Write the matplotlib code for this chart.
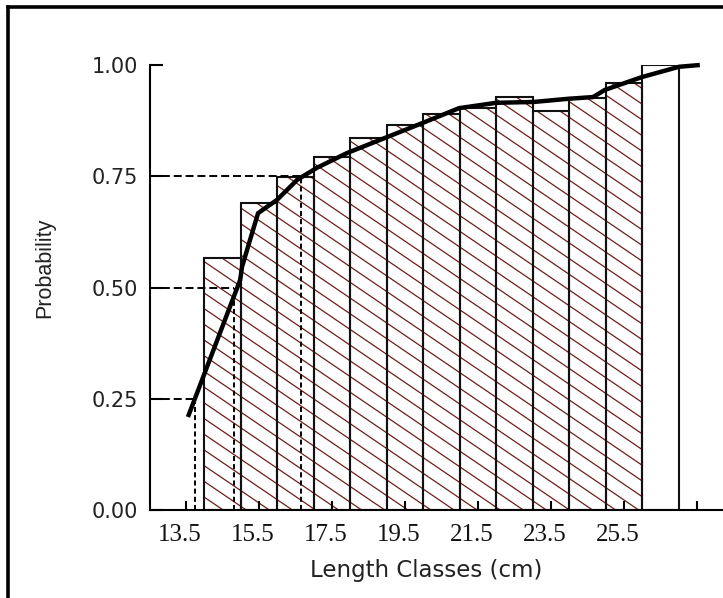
import numpy as np
import matplotlib
matplotlib.use('Agg')
import matplotlib.pyplot as plt
from matplotlib.lines import Line2D
from matplotlib.collections import LineCollection
from matplotlib.transforms import ScaledTranslation

# ---------------- data ----------------
bin_left = [14, 15, 16, 17, 18, 19, 20, 21, 22, 23, 24, 25, 26]
bar_prob = [0.566, 0.691, 0.749, 0.793, 0.835, 0.865, 0.889, 0.903,
            0.929, 0.897, 0.925, 0.959, 1.000]
bar_hatched = [True] * 12 + [False]

curve_x = [13.56, 14.99, 15.04, 15.26, 15.48, 15.72, 16.00, 16.55,
           17.09, 17.91, 19.01, 19.99, 20.98, 21.99, 23.03, 23.96, 24.65,
           24.97, 25.99, 27.00, 27.57]
curve_y = [0.209, 0.517, 0.546, 0.607, 0.667, 0.681, 0.697, 0.742,
           0.769, 0.802, 0.838, 0.870, 0.903, 0.915, 0.917, 0.924, 0.928,
           0.944, 0.973, 0.996, 1.000]

ref_prob = [0.25, 0.50, 0.75]
ref_len = [13.74, 14.82, 16.65]

xtick_pos = [13.5, 15.5, 17.5, 19.5, 21.5, 23.5, 25.5, 27.5]
xtick_labels = ['13.5', '15.5', '17.5', '19.5', '21.5', '23.5', '25.5', '']
ytick_pos = [0.0, 0.25, 0.50, 0.75, 1.00]
ytick_labels = ['0.00', '0.25', '0.50', '0.75', '1.00']

x_label = 'Length Classes (cm)'
y_label = 'Probability'

# ---------------- figure ----------------
W, H = 723, 598
fig = plt.figure(figsize=(W / 100, H / 100), dpi=100)
fig.patch.set_facecolor('white')
ax = fig.add_axes([150 / W, 88 / H, 573 / W, 445 / H])
ax.set_xlim(12.522, 28.204)
ax.set_ylim(0, 1.0)

# bars: white fill
face = ax.bar(bin_left, bar_prob, width=1.0, align='edge', color='white',
              edgecolor='none', zorder=1)

# hatch lines (angled), clipped to each hatched bar
p0 = ax.transData.transform((0, 0))
p1 = ax.transData.transform((1, 1))
sx, sy = p1 - p0
slope = -0.68 * sx / sy
spacing = 15.7 / sy
for patch, h in zip(face.patches, bar_hatched):
    if not h:
        continue
    cs = np.arange(-0.6, 2.2, spacing)
    segs = [[(13.0, c + slope * 1.0), (28.0, c + slope * 16.0)] for c in cs]
    lc = LineCollection(segs, colors='#6e1e1e', linewidths=0.9, zorder=1.5)
    ax.add_collection(lc)
    lc.set_clip_path(patch)

# bar outlines
ax.bar(bin_left, bar_prob, width=1.0, align='edge', fill=False,
       edgecolor='#111111', linewidth=1.5, zorder=2)

# reference dashed lines
x0 = ax.get_xlim()[0]
for p, l in zip(ref_prob, ref_len):
    ax.plot([x0, l], [p, p], color='black', lw=1.4, dashes=(4.1, 2.0),
            zorder=3)
    ax.plot([l, l], [0, p], color='black', lw=1.4, dashes=(2.6, 1.6),
            zorder=3)

# cumulative curve
ax.plot(curve_x, curve_y, color='black', lw=3.2, zorder=4, clip_on=False,
        solid_joinstyle='round', solid_capstyle='butt')

# spines
for s in ['top', 'right']:
    ax.spines[s].set_visible(False)
for s in ['left', 'bottom']:
    ax.spines[s].set_linewidth(1.5)
    ax.spines[s].set_zorder(5)

ax.set_xticks(xtick_pos, xtick_labels)
ax.set_yticks(ytick_pos, ytick_labels)
ax.tick_params(axis='x', direction='in', length=6.5, width=1.5, pad=10.0,
               labelsize=18, labelfontfamily='Liberation Serif',
               labelcolor='#111111')
ax.tick_params(axis='y', direction='in', length=9, width=1.5, pad=8.6,
               labelsize=15, labelfontfamily='DejaVu Sans',
               labelcolor='#222222')
offset = ScaledTranslation(-0.06, 0, fig.dpi_scale_trans)
for lbl in ax.get_xticklabels():
    lbl.set_transform(lbl.get_transform() + offset)

# axis titles
fig.text(426 / W, 1 - 577 / H, x_label, ha='center', va='baseline',
         fontsize=16.5, family='DejaVu Sans', color='#222222')
fig.text(45 / W, 1 - 268 / H, y_label, ha='center', va='center',
         rotation=90, fontsize=15.5, family='Liberation Sans', color='#222222')

# outer frame (left and top)
fig.add_artist(Line2D([7.5 / W, 7.5 / W], [0, 1 - 6.5 / H], color='black',
                      lw=2.6, solid_capstyle='projecting'))
fig.add_artist(Line2D([7.5 / W, 1.0], [1 - 6.5 / H, 1 - 6.5 / H],
                      color='black', lw=2.6, solid_capstyle='projecting'))

fig.savefig('out.png', dpi=100, facecolor='white')
